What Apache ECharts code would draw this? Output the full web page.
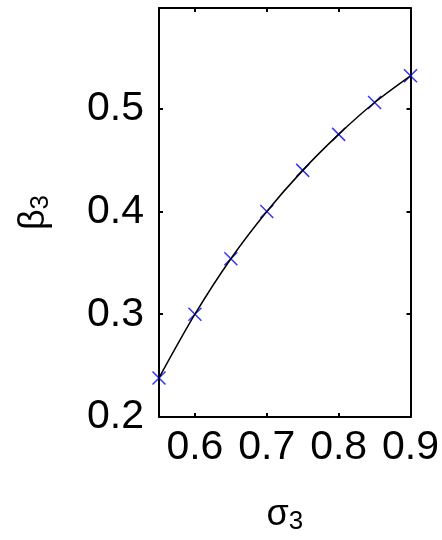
<!DOCTYPE html>
<html>
<head>
<meta charset="utf-8">
<script src="https://cdn.jsdelivr.net/npm/echarts@6/dist/echarts.min.js"></script>
<style>
  html, body { margin: 0; padding: 0; background: #fff; }
  #chart { width: 442px; height: 540px; }
</style>
</head>
<body>
<div id="chart"></div>
<script>
// sigma_3 values and beta_3
const sigma = [0.55, 0.6, 0.65, 0.7, 0.75, 0.8, 0.85, 0.9]
const beta = [0.238, 0.300, 0.354, 0.400, 0.440, 0.475, 0.506, 0.532]
const xTicks = [0.6, 0.7, 0.8, 0.9]
const yTicks = [0.2, 0.3, 0.4, 0.5]

const font = 'Liberation Sans'
const cross = 'path://M0,0L10,10M10,0L0,10'

const chart = echarts.init(document.getElementById('chart'))

const pts = sigma.map((s, i) => [s, beta[i]])

const line = { color: '#000', width: 2 }
const tick = { show: true, inside: true, length: 4, lineStyle: { color: '#000', width: 2 } }

chart.setOption({
  animation: false,
  grid: { left: 159, right: 23, top: 8, bottom: 122, containLabel: false },
  xAxis: [{
    type: 'value',
    min: 0.55, max: 0.9,
    axisLine: { lineStyle: line },
    axisTick: Object.assign({}, tick, { customValues: xTicks }),
    axisLabel: { color: '#000', fontFamily: font, fontSize: 41, margin: 10,
      customValues: xTicks,
      formatter: v => v.toFixed(1) },
    splitLine: { show: false },
    name: '{a|σ}{s|3}',
    nameLocation: 'middle',
    nameGap: 78,
    nameTextStyle: { rich: {
      a: { fontFamily: font, fontSize: 36, color: '#000' },
      s: { fontFamily: font, fontSize: 26, color: '#000', verticalAlign: 'bottom', padding: [14, 0, 0, 0] }
    } }
  }, {
    type: 'value', position: 'top', min: 0.55, max: 0.9,
    axisLine: { show: true, lineStyle: line },
    axisTick: Object.assign({}, tick, { customValues: xTicks.slice(0, 3) }),
    axisLabel: { show: false },
    splitLine: { show: false }
  }],
  yAxis: [{
    type: 'value',
    min: 0.2, max: 0.598,
    axisLine: { show: true, lineStyle: line },
    axisTick: Object.assign({}, tick, { customValues: yTicks.slice(1) }),
    axisLabel: { color: '#000', fontFamily: font, fontSize: 41, margin: 15,
      customValues: yTicks,
      formatter: v => v.toFixed(1) },
    splitLine: { show: false },
    name: '{a|β}{s|3}',
    nameLocation: 'middle',
    nameRotate: 90,
    nameGap: 105,
    nameTextStyle: { rich: {
      a: { fontFamily: font, fontSize: 36, color: '#000' },
      s: { fontFamily: font, fontSize: 26, color: '#000', verticalAlign: 'bottom', padding: [14, 0, 0, 0] }
    } }
  }, {
    type: 'value', position: 'right', min: 0.2, max: 0.598,
    axisLine: { show: true, lineStyle: line },
    axisTick: Object.assign({}, tick, { customValues: yTicks.slice(1) }),
    axisLabel: { show: false },
    splitLine: { show: false }
  }],
  series: [{
    type: 'line',
    data: pts,
    smooth: 0.3,
    showSymbol: false,
    lineStyle: { color: '#000', width: 1.5 }
  }, {
    type: 'scatter',
    data: pts,
    symbol: cross,
    symbolSize: 13,
    itemStyle: { color: 'none', borderColor: '#0000ff', borderWidth: 1.5 }
  }]
})
</script>
</body>
</html>
